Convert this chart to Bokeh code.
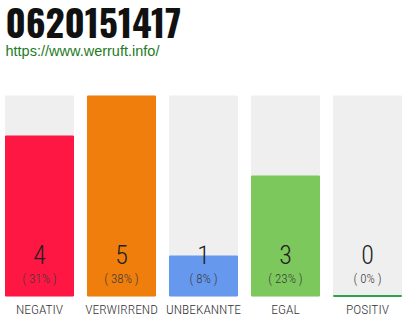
from bokeh.plotting import figure
from bokeh.models import Range1d, Label
from bokeh.core.properties import value
from bokeh.embed import file_html
from bokeh.resources import INLINE

title_text = "0620151417"
link_text = "https://www.werruft.info/"
categories = ["NEGATIV", "VERWIRREND", "UNBEKANNTE", "EGAL", "POSITIV"]
counts = [4, 5, 1, 3, 0]
percents = [31, 38, 8, 23, 0]
colors = ["#FF1744", "#F07E0C", "#6699EE", "#7DC85D", "#2DA24A"]

LIGHT = "Roboto Condensed Light"

xs = list(range(len(categories)))
vmax = max(counts)
bw = 68 / 82
pxu = 200 / vmax  # pixels per unit

p = figure(width=410, height=320, output_backend="svg", toolbar_location=None,
           title=None, x_axis_location=None, y_axis_location=None,
           x_range=Range1d(-39 / 82, (410 - 39) / 82),
           y_range=Range1d(-24.5 / pxu, 295.5 / pxu),
           min_border=0)
p.outline_line_color = None
p.grid.visible = False

p.vbar(x=xs, top=[vmax] * len(xs), width=bw, color="#EFEFEF")
p.vbar(x=xs, top=counts, width=bw, color=colors)

zx = [x for x, c in zip(xs, counts) if c == 0]
zc = [col for col, c in zip(colors, counts) if c == 0]
p.segment(x0=[x - bw / 2 for x in zx], x1=[x + bw / 2 for x in zx],
          y0=[0] * len(zx), y1=[0] * len(zx), line_color=zc, line_width=2)

p.text(x=xs, y=[0] * len(xs), text=[str(c) for c in counts], y_offset=-42,
       text_align="center", text_baseline="alphabetic", text_font=value(LIGHT),
       text_font_size="26px", text_color="#222222")
p.text(x=xs, y=[0] * len(xs), text=["( %d%% )" % v for v in percents], y_offset=-17.2,
       text_align="center", text_baseline="alphabetic", text_font=value(LIGHT),
       text_font_size="13px", text_color="#3a3a3a")
p.text(x=xs, y=[0] * len(xs), text=categories, y_offset=12.6,
       text_align="center", text_baseline="alphabetic", text_font=value(LIGHT),
       text_font_size="13.5px", text_color="#333333")

p.add_layout(Label(x=5, y=298, x_units="screen", y_units="screen", text=title_text,
                   text_font="Oswald", text_font_style="bold", text_font_size="37px",
                   text_baseline="alphabetic", text_color="#111111"))
p.add_layout(Label(x=5, y=270, x_units="screen", y_units="screen", text=link_text,
                   text_font="Liberation Sans", text_font_size="14.5px",
                   text_baseline="alphabetic", text_color="#1E7B1E"))

open("out.html", "w").write(file_html(p, INLINE))
